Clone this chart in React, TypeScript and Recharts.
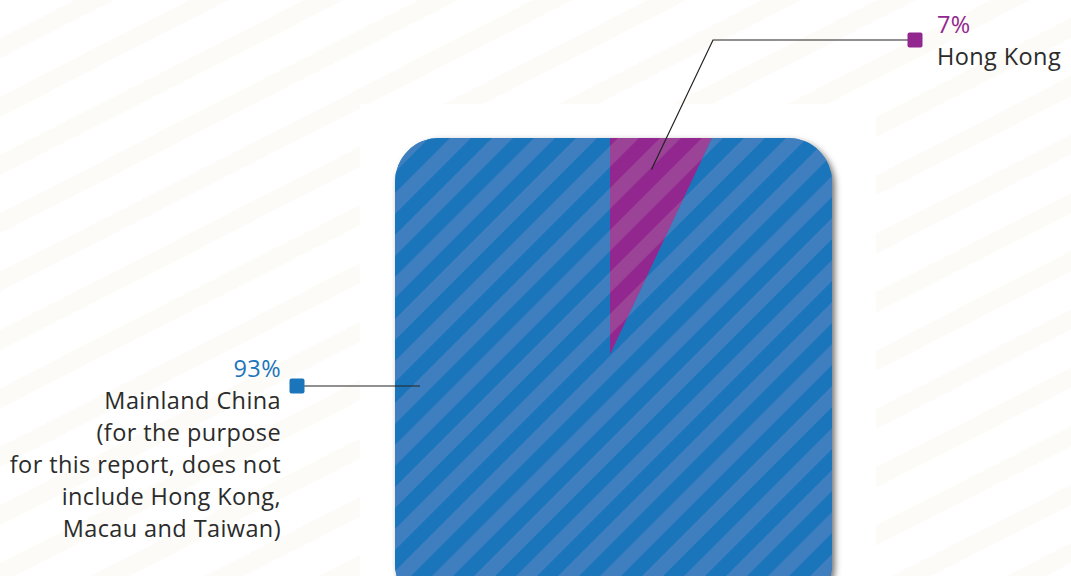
import * as React from 'react'
import { Cell, Pie, PieChart } from 'recharts'

// market share by region
const regionNames = ['Hong Kong', 'Mainland China']
const regionValues = [7, 93]
const regionColors = ['#92278f', '#1b75bb']
const regionStripes = ['url(#stripePurple)', 'url(#stripeBlue)']
const mainlandNote = [
  '(for the purpose',
  'for this report, does not',
  'include Hong Kong,',
  'Macau and Taiwan)',
]

const data = regionNames.map((name, i) => ({ name, value: regionValues[i] }))

const W = 1071
const H = 576
const FONT = '"Open Sans", "Noto Sans", sans-serif'
const TEXT = '#2b2b2b'
const RAD = Math.PI / 180

// rounded panel the pie is clipped into
const panel = { x: 395, y: 138, w: 437, h: 470, r: 44 }

const textStyle = { fontSize: 23.5, fontFamily: FONT, letterSpacing: 0.4 }

const renderLabel = (props: any) => {
  const { cx, cy, midAngle, percent, index } = props
  const pct = `${Math.round(percent * 100)}%`
  const color = regionColors[index]

  if (index === 0) {
    const ax = cx + 190 * Math.cos(-midAngle * RAD)
    const ay = cy + 190 * Math.sin(-midAngle * RAD)
    const ey = cy - 315
    const ex = cx + 103
    const mx = cx + 305
    return (
      <g key="lbl-0">
        <polyline
          points={`${ax},${ay} ${ex},${ey} ${mx},${ey}`}
          fill="none"
          stroke="#222"
          strokeWidth={1.2}
        />
        <rect x={mx - 7.5} y={ey - 7.5} width={15} height={15} rx={2} fill={color} />
        <text x={cx + 327} y={cy - 322} fill={color} style={textStyle}>
          {pct}
        </text>
        <text x={cx + 327} y={cy - 290} fill={TEXT} style={textStyle}>
          {regionNames[index]}
        </text>
      </g>
    )
  }

  const ly = cy + 31
  const mx = cx - 313
  return (
    <g key="lbl-1">
      <line x1={mx} y1={ly} x2={cx - 190} y2={ly} stroke="#222" strokeWidth={1.2} />
      <rect x={mx - 7.5} y={ly - 7.5} width={15} height={15} rx={2} fill={color} />
      <text x={cx - 329} y={cy + 22} textAnchor="end" fill={color} style={textStyle}>
        {pct}
      </text>
      {[regionNames[index], ...mainlandNote].map((t, i) => (
        <text
          key={t}
          x={cx - 329}
          y={cy + 54 + i * 32}
          textAnchor="end"
          fill={TEXT}
          style={textStyle}
        >
          {t}
        </text>
      ))}
    </g>
  )
}

export default function App() {
  return (
    <div
      style={{
        position: 'absolute',
        left: 0,
        top: 0,
        width: W,
        height: H,
        overflow: 'hidden',
        background:
          'repeating-linear-gradient(153deg, #ffffff 0px, #ffffff 34px, #fcfbf8 34px, #fcfbf8 52px)',
      }}
    >
      <style>{`.recharts-sector { clip-path: url(#panelClip); }`}</style>
      <svg width={0} height={0} style={{ position: 'absolute' }}>
        <defs>
          <clipPath id="panelClip" clipPathUnits="userSpaceOnUse">
            <rect x={panel.x} y={panel.y} width={panel.w} height={panel.h} rx={panel.r} />
          </clipPath>
          <pattern
            id="stripeBlue"
            patternUnits="userSpaceOnUse"
            width={29.7}
            height={29.7}
            patternTransform="rotate(45)"
          >
            <rect width={29.7} height={29.7} fill="#1b75bb" />
            <rect width={14.8} height={29.7} fill="#3f7fc0" />
          </pattern>
          <pattern
            id="stripePurple"
            patternUnits="userSpaceOnUse"
            width={29.7}
            height={29.7}
            patternTransform="rotate(45)"
          >
            <rect width={29.7} height={29.7} fill="#92278f" />
            <rect width={14.8} height={29.7} fill="#9b4396" />
          </pattern>
        </defs>
      </svg>
      <div
        style={{
          position: 'absolute',
          left: 360,
          top: 104,
          width: 516,
          height: H - 104,
          background: '#ffffff',
        }}
      />
      <div
        style={{
          position: 'absolute',
          left: panel.x,
          top: panel.y,
          width: panel.w,
          height: panel.h,
          borderRadius: panel.r,
          background: '#1b75bb',
          boxShadow: '3px 3px 6px rgba(0,0,0,0.55)',
        }}
      />
      <div style={{ position: 'absolute', left: 0, top: 0 }}>
        <PieChart width={W} height={H} margin={{ top: 0, right: 0, bottom: 0, left: 0 }}>
          <Pie
            data={data}
            dataKey="value"
            nameKey="name"
            cx={610}
            cy={355}
            outerRadius={360}
            startAngle={90}
            endAngle={-270}
            stroke="none"
            label={renderLabel}
            labelLine={false}
            isAnimationActive={false}
          >
            {data.map((d, i) => (
              <Cell key={d.name} fill={regionStripes[i]} />
            ))}
          </Pie>
        </PieChart>
      </div>
    </div>
  )
}
